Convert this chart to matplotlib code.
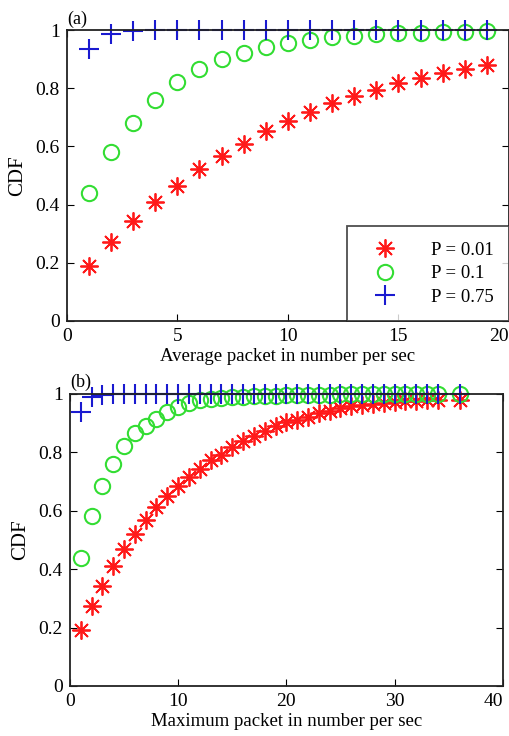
import matplotlib
matplotlib.use("Agg")
import matplotlib.pyplot as plt

plt.rcParams['font.family'] = ['Liberation Serif', 'DejaVu Serif']

# panel (a): average packet rate
avg_x = list(range(1, 20))
avg_p001 = [0.19, 0.27, 0.342, 0.41, 0.465, 0.521, 0.567, 0.61, 0.652, 0.687,
            0.718, 0.748, 0.772, 0.794, 0.818, 0.834, 0.852, 0.868, 0.879]
avg_p01 = [0.439, 0.58, 0.68, 0.76, 0.822, 0.866, 0.9, 0.922, 0.943, 0.955,
           0.965, 0.975, 0.98, 0.986, 0.989, 0.992, 0.994, 0.995, 0.996]
avg_p075 = [0.935, 0.986, 0.998, 0.999, 1.0, 1.0, 1.0, 1.0, 1.0, 1.0,
            1.0, 1.0, 1.0, 1.0, 1.0, 1.0, 1.0, 1.0, 1.0]

# panel (b): maximum packet rate
max_x = list(range(1, 35)) + [36]
max_p001 = [0.192, 0.272, 0.342, 0.409, 0.469, 0.519, 0.568, 0.612, 0.65, 0.685,
            0.716, 0.743, 0.772, 0.791, 0.817, 0.84, 0.857, 0.871, 0.888, 0.903,
            0.911, 0.922, 0.934, 0.942, 0.951, 0.957, 0.963, 0.966, 0.97, 0.972,
            0.974, 0.976, 0.977, 0.978, 0.978]
max_p01 = [0.437, 0.58, 0.685, 0.759, 0.82, 0.865, 0.89, 0.913, 0.939, 0.954,
           0.968, 0.977, 0.982, 0.985, 0.988, 0.99, 0.992, 0.993, 0.994, 0.995,
           0.996, 0.996, 0.997, 0.997, 0.998, 0.998, 0.998, 0.999, 0.999, 0.999,
           0.999, 0.999, 1.0, 1.0, 1.0]
max_p075 = [0.936, 0.989, 0.997, 0.998, 0.998, 0.998, 0.998, 0.998, 0.998, 0.998,
            0.998, 1.0, 1.0, 1.0, 1.0, 1.0, 1.0, 1.0, 1.0, 1.0,
            1.0, 1.0, 1.0, 1.0, 1.0, 1.0, 1.0, 1.0, 1.0, 1.0,
            1.0, 1.0, 1.0, 1.0, 1.0]

labels = ['P = 0.01', 'P = 0.1', 'P = 0.75']
red = '#ff1a1a'
green = '#33dd33'
blue = '#1a1ad0'


def draw(ax, x, s1, s2, s3, xticks):
    ax.plot(x, s1, linestyle='none', marker=(8, 2, 0), markersize=13,
            markeredgewidth=1.3, color=red, label=labels[0], clip_on=False)
    ax.plot(x, s2, linestyle='none', marker='o', markersize=11,
            markerfacecolor='none', markeredgewidth=1.5, color=green,
            label=labels[1], clip_on=False)
    ax.plot(x, s3, linestyle='none', marker='+', markersize=14,
            markeredgewidth=1.5, color=blue, label=labels[2], clip_on=False)
    ax.set_xlim(xticks[0], xticks[-1])
    ax.set_xticks(xticks)
    ax.set_ylim(0, 1)
    ax.set_yticks([0, 0.2, 0.4, 0.6, 0.8, 1])
    ax.set_yticklabels(['0', '0.2', '0.4', '0.6', '0.8', '1'])
    ax.tick_params(direction='in', top=True, right=True, labelsize=14, length=5, pad=5)
    # last x label sits inside the right edge, as in the original
    ax.get_xticklabels()[-1].set_horizontalalignment('right')
    for sp in ax.spines.values():
        sp.set_linewidth(1.3)
        sp.set_color('#222222')
    ax.set_ylabel('CDF', fontsize=15, labelpad=6)


fig = plt.figure(figsize=(5.1, 7.36), dpi=100)

ax1 = fig.add_axes([0.131, 0.564, 0.867, 0.395])
draw(ax1, avg_x, avg_p001, avg_p01, avg_p075, [0, 5, 10, 15, 20])
ax1.set_xlabel('Average packet in number per sec', fontsize=13.5, labelpad=2)
ax1.text(0.0, 1.008, '(a)', transform=ax1.transAxes, fontsize=13, va='bottom', ha='left')
leg = ax1.legend(loc='lower right', fontsize=13.5, frameon=True, fancybox=False,
                 borderaxespad=0, handletextpad=1.2, borderpad=0.8,
                 labelspacing=0.35, handlelength=2.5)
leg.get_frame().set_edgecolor('#222222')
leg.get_frame().set_linewidth(1.3)

ax2 = fig.add_axes([0.137, 0.068, 0.849, 0.397])
draw(ax2, max_x, max_p001, max_p01, max_p075, [0, 10, 20, 30, 40])
ax2.set_xlabel('Maximum packet in number per sec', fontsize=13.5, labelpad=2)
ax2.text(0.0, 1.008, '(b)', transform=ax2.transAxes, fontsize=13, va='bottom', ha='left')

fig.savefig('out.png', dpi=100)
